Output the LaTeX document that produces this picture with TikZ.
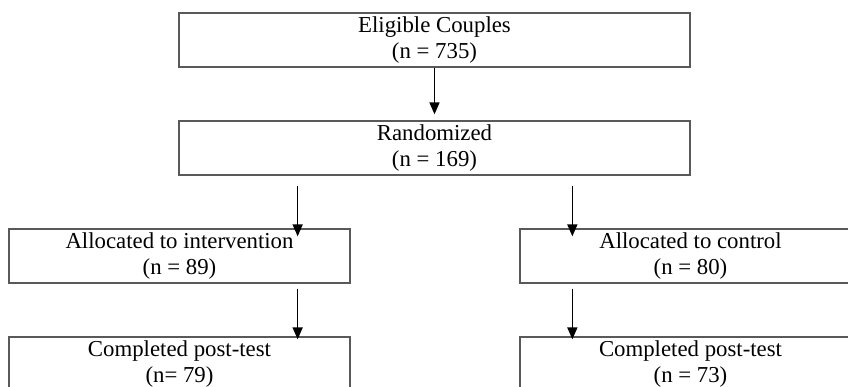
\documentclass[tikz,border=0pt]{standalone}
\usepackage{fontspec}
\setmainfont{Liberation Serif}
\usetikzlibrary{arrows.meta}

\begin{document}
\begin{tikzpicture}[x=1pt,y=-1pt,
    stage/.style={draw=black!65,line width=1.3pt,inner sep=0pt,minimum height=54pt,
      align=center,font=\fontsize{22.8}{26}\selectfont,
      execute at begin node=\rule{0pt}{21pt}},
    wide/.style={stage,minimum width=511pt},
    narrow/.style={stage,minimum width=341pt},
    flow/.style={-{Triangle[length=12pt,width=10pt]},line width=1.6pt}]
  \useasboundingbox (0,0) rectangle (848,387);
  \node[wide] (eligible) at (434.5,40) {Eligible Couples\\(n = 735)};
  \node[wide] (random) at (434.5,148) {Randomized\\(n = 169)};
  \node[narrow] (allocint) at (179.5,256) {Allocated to intervention\\(n = 89)};
  \node[narrow] (allocctl) at (690.5,256) {Allocated to control\\(n = 80)};
  \node[narrow] (postint) at (179.5,364) {Completed post-test\\(n= 79)};
  \node[narrow] (postctl) at (690.5,364) {Completed post-test\\(n = 73)};
  % arrows sit off the box centres
  \coordinate (armint) at ([xshift=-53pt]allocint.north east);
  \coordinate (armctl) at ([xshift=53pt]allocctl.north west);
  \draw[flow,shorten >=6pt] (eligible) -- (random);
  \draw[flow,shorten <=10pt,shorten >=-8pt] (armint |- random.south) -- (armint);
  \draw[flow,shorten <=10pt,shorten >=-8pt] (armctl |- random.south) -- (armctl);
  \draw[flow,shorten <=5pt,shorten >=-3pt] (armint |- allocint.south) -- (armint |- postint.north);
  \draw[flow,shorten <=5pt,shorten >=-3pt] (armctl |- allocctl.south) -- (armctl |- postctl.north);
\end{tikzpicture}
\end{document}
